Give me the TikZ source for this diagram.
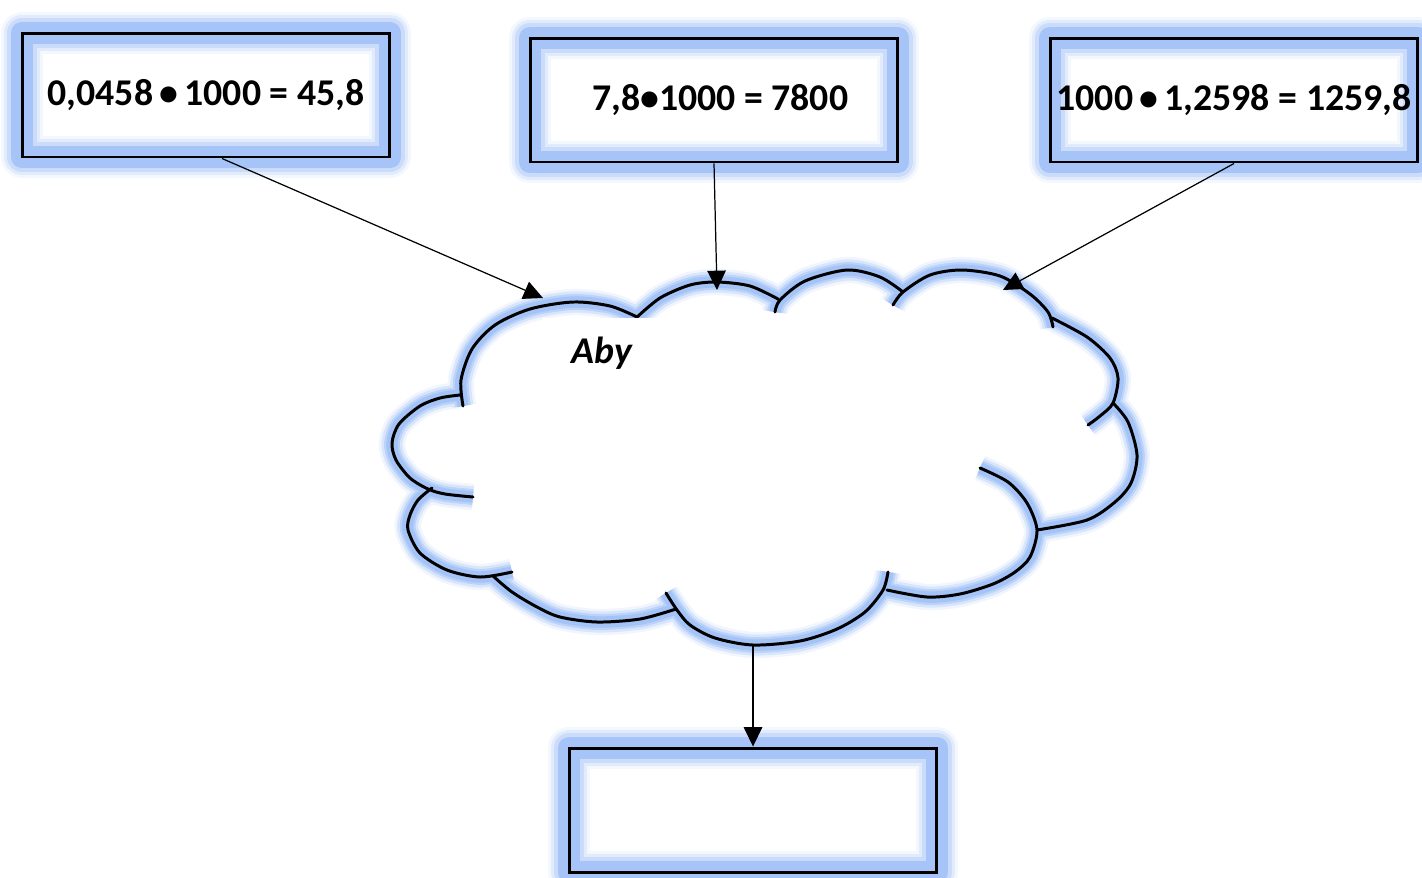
\documentclass[tikz,border=0pt]{standalone}
\usepackage{fontspec}
\setmainfont{Carlito}
\usetikzlibrary{arrows.meta,calc}

\definecolor{glowblue}{RGB}{160,192,246}

\tikzset{
  boxglow/.style={preaction={draw=glowblue,line join=round,line width=24pt,draw opacity=.12},
                  preaction={draw=glowblue,line join=round,line width=20.5pt,draw opacity=.22},
                  preaction={draw=glowblue,line join=round,line width=17pt,draw opacity=.35},
                  preaction={draw=glowblue,line join=round,line width=13pt,draw opacity=.85}},
  cloudglow/.style={preaction={draw=glowblue,line width=15pt,draw opacity=.15},
                    preaction={draw=glowblue,line width=12pt,draw opacity=.3},
                    preaction={draw=glowblue,line width=9pt,draw opacity=.5},
                    preaction={draw=glowblue,line width=6.5pt,draw opacity=.85}},
  calcbox/.style={boxglow, draw, line width=1.7pt, minimum width=7.36cm,
                  minimum height=2.48cm, inner sep=0pt,
                  font=\bfseries\fontsize{21.5pt}{26pt}\selectfont},
  textpatch/.style={fill=white, anchor=north west, text width=3.62cm, align=left,
                    inner xsep=0.56cm, inner ysep=0.38cm,
                    font=\bfseries\itshape\fontsize{21.5pt}{26pt}\selectfont},
  conn/.style={-{Triangle[length=11pt,width=10.5pt]}, line width=0.7pt}
}

% outline of the cloud, one smooth piece per lobe (pixel units)
\newcommand{\cloudpath}{
  plot[smooth] coordinates {(463,406) (461,380) (472,349) (495,325) (530,309) (573,302) (610,306) (637,317)}
  plot[smooth] coordinates {(636,318) (660,298) (690,285) (717,282) (750,286) (778,299)}
  plot[smooth] coordinates {(775,312) (780,300) (805,281) (847,270) (880,277) (903,292)}
  plot[smooth] coordinates {(893,305) (903,292) (930,275) (962,270) (1000,276) (1030,294) (1048,312) (1053,327)}
  plot[smooth] coordinates {(1052,318) (1087,337) (1110,358) (1118,378) (1113,403) (1100,416) (1088,425)}
  plot[smooth] coordinates {(1113,403) (1128,422) (1137,455) (1131,483) (1115,502) (1087,520) (1037,530)}
  plot[smooth] coordinates {(980,468) (1008,482) (1027,503) (1037,530) (1030,557) (1015,572) (993,584) (960,594) (927,597) (887,590)}
  plot[smooth] coordinates {(888,572) (883,590) (865,612) (837,629) (800,641) (753,645) (715,638) (690,625) (677,610) (666,593)}
  plot[smooth] coordinates {(676,609) (640,619) (597,622) (560,617) (537,607) (512,592) (493,576)}
  plot[smooth] coordinates {(432,488) (418,500) (410,515) (408,530) (420,553) (447,570) (480,577) (512,572)}
  plot[smooth] coordinates {(473,497) (445,494) (428,489) (410,478) (396,460) (392,443) (399,424) (420,406) (440,398) (460,395)}
}

\begin{document}
\begin{tikzpicture}[x=0.02cm, y=-0.02cm]
  \useasboundingbox (0,0) rectangle (1422,877);

  % the three products on top
  \foreach \name/\x/\y/\txt in {box1/206/95/{0,0458\,•\,1000 = 45,8},
                                box2/714/100/{\hspace{0.25cm}7,8•1000 = 7800},
                                box3/1234/100/{1000\,•\,1,2598 = 1259,8}}
    \node[calcbox] (\name) at (\x,\y) {\txt};

  % the cloud
  \draw[cloudglow, line width=1.7pt, line cap=round] \cloudpath;
  \node[textpatch] (aby) at (543,318) {Aby};

  % empty answer box
  \node[calcbox] (res) at (753,810) {};

  % where the arrows meet the cloud
  \coordinate (in1) at (543,298);
  \coordinate (in2) at (717,290);
  \coordinate (in3) at (1003,290);
  \coordinate (out) at (753,645);

  \draw[conn] ($(box1.south)+(16,0)$) -- (in1);
  \draw[conn] (box2.south) -- (in2);
  \draw[conn] (box3.south) -- (in3);
  \draw[conn] (out) -- (res.north);
\end{tikzpicture}
\end{document}
